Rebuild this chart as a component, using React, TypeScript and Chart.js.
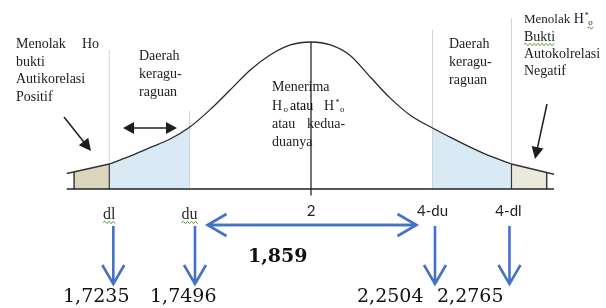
import React, { useEffect, useRef } from "react";
import { Chart, registerables } from "chart.js";

Chart.register(...registerables);

// Durbin-Watson schematic: x = d statistic (0..4), y = relative density
const curveX = [0.34, 0.5, 0.67, 0.84, 1.0, 1.17, 1.33, 1.5, 1.66, 1.83, 2.0, 2.16, 2.32, 2.49, 2.65, 2.82, 3.0, 3.14, 3.31, 3.47, 3.65];
const curveY = [0.17, 0.22, 0.28, 0.34, 0.42, 0.54, 0.67, 0.81, 0.91, 0.98, 1.0, 0.98, 0.91, 0.76, 0.62, 0.5, 0.415, 0.355, 0.285, 0.225, 0.17];
const leftTailX = [-0.01, 0.34];
const leftTailY = [0.105, 0.17];
const rightTailX = [3.65, 4.0];
const rightTailY = [0.17, 0.1];
const leftBoxX = [0.05, 0.34];
const leftBoxY = [0.116, 0.17];
const rightBoxX = [3.65, 3.94];
const rightBoxY = [0.17, 0.113];
const axisRange = [-0.01, 4.0];
const tickValues = [0.34, 1.0, 2.0, 3.0, 3.65];
const tickLabels = ["dl", "du", "2", "4-du", "4-dl"];
const guideTops = [0.945, 0.53, 1.0, 1.08, 1.16];
const centerLineRange = [-0.045, 1.0];
const criticalValues = ["1,7235", "1,7496", "2,2504", "2,2765"];
const dwStatistic = "1,859";

const leftRejectText = ["Menolak", "Ho", "bukti", "Autikorelasi", "Positif"];
const doubtText = ["Daerah", "keragu-", "raguan"];
const acceptText = ["Menerima", "atau", "atau", "kedua-", "duanya"];
const rightRejectText = ["Menolak", "Bukti", "Autokolrelasi", "Negatif"];

const pts = (xs: number[], ys: number[]) => xs.map((x, i) => ({ x, y: ys[i] }));

const SERIF = "'Liberation Serif', 'Times New Roman', serif";
const TXT = "#1c1c1c";
const BLUE = "#4472c4";

function App() {
  const ref = useRef<HTMLCanvasElement | null>(null);

  useEffect(() => {
    const canvas = ref.current;
    if (!canvas) return;

    const curve = pts(curveX, curveY);
    const leftBlue = curve.filter((p) => p.x >= tickValues[0] && p.x <= tickValues[1]);
    const rightBlue = curve.filter((p) => p.x >= tickValues[3] && p.x <= tickValues[4]);
    const vline = (x: number, y0: number, y1: number) => [{ x, y: y0 }, { x, y: y1 }];

    const base = {
      pointRadius: 0,
      clip: false as any,
      tension: 0,
      fill: false,
    };

    const datasets: any[] = [
      { ...base, data: leftBlue, borderWidth: 0, borderColor: "rgba(0,0,0,0)", backgroundColor: "#d9eaf4", fill: "origin", cubicInterpolationMode: "monotone", order: 20 },
      { ...base, data: rightBlue, borderWidth: 0, borderColor: "rgba(0,0,0,0)", backgroundColor: "#d9eaf4", fill: "origin", cubicInterpolationMode: "monotone", order: 20 },
      { ...base, data: pts(leftBoxX, leftBoxY), borderWidth: 0, borderColor: "rgba(0,0,0,0)", backgroundColor: "#dcd5bd", fill: "origin", order: 20 },
      { ...base, data: pts(rightBoxX, rightBoxY), borderWidth: 0, borderColor: "rgba(0,0,0,0)", backgroundColor: "#ebe8dc", fill: "origin", order: 20 },
      // light guide rules at the critical values
      ...tickValues
        .map((v, i) => ({ v, i }))
        .filter((t) => t.i !== 2)
        .map((t) => ({ ...base, data: vline(t.v, 0, guideTops[t.i]), borderColor: "#d2d2d2", borderWidth: 1, order: 15 })),
      // box edges
      { ...base, data: vline(leftBoxX[0], 0, leftBoxY[0]), borderColor: "#3a3a3a", borderWidth: 1.5, order: 5 },
      { ...base, data: vline(leftBoxX[1], 0, leftBoxY[1]), borderColor: "#3a3a3a", borderWidth: 1.2, order: 5 },
      { ...base, data: vline(rightBoxX[0], 0, rightBoxY[0]), borderColor: "#3a3a3a", borderWidth: 1.2, order: 5 },
      { ...base, data: vline(rightBoxX[1], 0, rightBoxY[1]), borderColor: "#3a3a3a", borderWidth: 1.5, order: 5 },
      // center line at d = 2
      { ...base, data: vline(tickValues[2], centerLineRange[0], centerLineRange[1]), borderColor: "#444", borderWidth: 1.5, order: 4 },
      // tails
      { ...base, data: pts(leftTailX, leftTailY), borderColor: "#333", borderWidth: 1.6, order: 3 },
      { ...base, data: pts(rightTailX, rightTailY), borderColor: "#333", borderWidth: 1.6, order: 3 },
      // the curve
      { ...base, data: curve, borderColor: "#2a2a2a", borderWidth: 1.3, cubicInterpolationMode: "monotone", order: 2 },
      // baseline
      { ...base, data: [{ x: axisRange[0], y: 0 }, { x: axisRange[1], y: 0 }], borderColor: "#222", borderWidth: 1.6, order: 1 },
    ];

    const wavy = (ctx: CanvasRenderingContext2D, x1: number, x2: number, y: number) => {
      ctx.save();
      ctx.strokeStyle = "#4fa33a";
      ctx.lineWidth = 1;
      ctx.beginPath();
      let up = true;
      ctx.moveTo(x1, y);
      for (let x = x1 + 2; x <= x2; x += 2) {
        ctx.lineTo(x, up ? y - 1.2 : y + 1.2);
        up = !up;
      }
      ctx.stroke();
      ctx.restore();
    };

    const text = (ctx: CanvasRenderingContext2D, s: string, x: number, y: number, font: string, align: CanvasTextAlign = "left", color = TXT) => {
      ctx.font = font;
      ctx.fillStyle = color;
      ctx.textAlign = align;
      ctx.textBaseline = "alphabetic";
      ctx.fillText(s, x, y);
      return ctx.measureText(s).width;
    };

    const blackArrow = (ctx: CanvasRenderingContext2D, x1: number, y1: number, x2: number, y2: number, head = 11, half = 6) => {
      const a = Math.atan2(y2 - y1, x2 - x1);
      ctx.save();
      ctx.strokeStyle = "#1e1e1e";
      ctx.fillStyle = "#1e1e1e";
      ctx.lineWidth = 1.5;
      ctx.beginPath();
      ctx.moveTo(x1, y1);
      ctx.lineTo(x2 - Math.cos(a) * head * 0.8, y2 - Math.sin(a) * head * 0.8);
      ctx.stroke();
      ctx.beginPath();
      ctx.moveTo(x2, y2);
      ctx.lineTo(x2 - Math.cos(a) * head - Math.sin(a) * half, y2 - Math.sin(a) * head + Math.cos(a) * half);
      ctx.lineTo(x2 - Math.cos(a) * head + Math.sin(a) * half, y2 - Math.sin(a) * head - Math.cos(a) * half);
      ctx.closePath();
      ctx.fill();
      ctx.restore();
    };

    const blueChevronArrow = (ctx: CanvasRenderingContext2D, x1: number, y1: number, x2: number, y2: number) => {
      const a = Math.atan2(y2 - y1, x2 - x1);
      const head = 19;
      const half = 11;
      ctx.beginPath();
      ctx.moveTo(x1, y1);
      ctx.lineTo(x2, y2);
      ctx.moveTo(x2 - Math.cos(a) * head - Math.sin(a) * half, y2 - Math.sin(a) * head + Math.cos(a) * half);
      ctx.lineTo(x2, y2);
      ctx.lineTo(x2 - Math.cos(a) * head + Math.sin(a) * half, y2 - Math.sin(a) * head - Math.cos(a) * half);
      ctx.stroke();
    };

    const annotations = {
      id: "dwAnnotations",
      afterDraw(chart: any) {
        const ctx: CanvasRenderingContext2D = chart.ctx;
        const xs = chart.scales.x;
        const ys = chart.scales.y;
        const y0 = ys.getPixelForValue(0);
        const tx = tickValues.map((v) => xs.getPixelForValue(v));
        ctx.save();

        // ---- tick labels ----
        const serifTick = `16px ${SERIF}`;
        const sansTick = "15px Lato, 'Liberation Sans', sans-serif";
        tickLabels.forEach((lab, i) => {
          const isSerif = i < 2;
          const w = text(ctx, lab, tx[i] + (isSerif ? 0 : i === 4 ? -3 : 0), y0 + (isSerif ? 30 : 27), isSerif ? serifTick : sansTick, "center", isSerif ? "#2a2a2a" : "#222");
          if (isSerif) wavy(ctx, tx[i] - w / 2, tx[i] + w / 2, y0 + 33.5);
        });

        // ---- blue arrows ----
        ctx.strokeStyle = BLUE;
        ctx.lineWidth = 2.6;
        ctx.lineCap = "butt";
        ctx.lineJoin = "miter";
        const arrowDx = [4, 5.5, 2.5, -2];
        [0, 1, 3, 4].forEach((ti, k) => {
          const x = tx[ti] + arrowDx[k];
          blueChevronArrow(ctx, x, y0 + 37, x, y0 + 95);
        });
        const hy = y0 + 36;
        const lx = tx[1] + 18;
        const rx = tx[3] - 16;
        blueChevronArrow(ctx, rx, hy, lx, hy);
        blueChevronArrow(ctx, lx, hy, rx, hy);

        // ---- numbers ----
        text(ctx, dwStatistic, 248, y0 + 73, `bold 19px 'DejaVu Serif', serif`, "left", "#111");
        const numFont = `19px 'DejaVu Serif', serif`;
        const numX = [63, 150, 357, 437];
        criticalValues.forEach((s, i) => text(ctx, s, numX[i], y0 + 113, numFont, "left", "#111"));

        // ---- region texts ----
        const f14 = `14px ${SERIF}`;
        const sub = `9px ${SERIF}`;
        const sup = `8px ${SERIF}`;
        // left rejection
        text(ctx, leftRejectText[0], 16, 48, f14);
        text(ctx, leftRejectText[1], 82, 48, f14);
        text(ctx, leftRejectText[2], 16, 65.5, f14);
        text(ctx, leftRejectText[3], 16, 83, f14);
        text(ctx, leftRejectText[4], 16, 100.5, f14);
        blackArrow(ctx, 64, 117, 91, 151, 12, 6);

        // left doubt region
        doubtText.forEach((s, i) => text(ctx, s, 139, 60 + i * 18, f14));
        // double black arrow
        blackArrow(ctx, 150, 128, 123, 128, 11, 6);
        blackArrow(ctx, 150, 128, 177, 128, 11, 6);

        // right doubt region
        doubtText.forEach((s, i) => text(ctx, s, 449, 48 + i * 17.8, f14));

        // acceptance region
        text(ctx, acceptText[0], 272, 90.5, f14);
        let w = text(ctx, "H", 272, 110, f14);
        text(ctx, "o", 272 + w + 1.5, 112, sub);
        text(ctx, acceptText[1], 290, 110, f14, "left", "#000");
        w = text(ctx, "H", 324, 110, f14);
        text(ctx, "*", 324 + w + 1.5, 105, sup);
        text(ctx, "o", 324 + w + 6, 112, sub);
        text(ctx, acceptText[2], 272, 128, f14);
        text(ctx, acceptText[3], 307, 128, f14);
        text(ctx, acceptText[4], 272, 145.5, f14);

        // right rejection
        const mw = text(ctx, rightRejectText[0], 524, 23, `13px ${SERIF}`);
        const hx = 524 + mw + 3.5;
        w = text(ctx, "H", hx, 23, f14);
        text(ctx, "*", hx + w + 1, 18, sup);
        text(ctx, "o", hx + w + 4.5, 25, sub);
        wavy(ctx, hx + w + 3.5, hx + w + 11, 28);
        w = text(ctx, rightRejectText[1], 524, 41, f14);
        wavy(ctx, 524, 524 + w, 44.5);
        text(ctx, rightRejectText[2], 524, 58, f14);
        text(ctx, rightRejectText[3], 524, 75, f14);
        blackArrow(ctx, 547, 104, 535, 159, 12, 6);

        ctx.restore();
      },
    };

    const chart = new Chart(canvas, {
      type: "line",
      data: { datasets },
      options: {
        responsive: false,
        animation: false,
        events: [],
        layout: { padding: { left: 68, right: 52, top: 42, bottom: 119 } },
        scales: {
          x: { type: "linear", min: 0, max: 4, display: false },
          y: { type: "linear", min: 0, max: 1, display: false },
        },
        plugins: { legend: { display: false }, tooltip: { enabled: false } },
        elements: { point: { radius: 0 } },
      },
      plugins: [annotations],
    } as any);

    return () => chart.destroy();
  }, []);

  return (
    <div style={{ position: "fixed", left: 0, top: 0, width: 606, height: 308, background: "#fff" }}>
      <canvas ref={ref} width={606} height={308} style={{ display: "block" }} />
    </div>
  );
}

export default App;
